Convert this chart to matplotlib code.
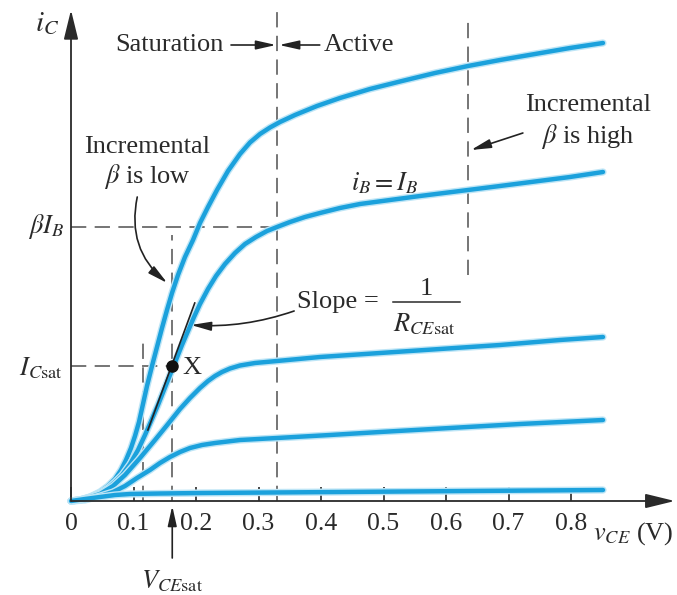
import matplotlib
matplotlib.use("Agg")
import matplotlib.pyplot as plt
import matplotlib.patheffects as pe

plt.rcParams['font.family'] = ['Liberation Serif', 'DejaVu Serif']
plt.rcParams['mathtext.fontset'] = 'stix'

# ---- data (v_CE in volts, i_C in arbitrary units) ----
c1_v = [0, 0.0144, 0.0304, 0.0464, 0.0592, 0.0704, 0.080, 0.088, 0.096, 0.1024, 0.1088,
        0.1152, 0.1216, 0.1296, 0.1376, 0.1456, 0.1536, 0.1616, 0.1712, 0.1824, 0.1952,
        0.2064, 0.2192, 0.2336, 0.2512, 0.2704, 0.2864, 0.3024, 0.3184, 0.3344, 0.3584,
        0.3936, 0.4304, 0.4784, 0.5264, 0.5824, 0.6352, 0.6864, 0.7424, 0.7984, 0.8512]
c1_i = [0, 0.01, 0.04, 0.09, 0.15, 0.22, 0.31, 0.41, 0.53, 0.65, 0.79,
        0.97, 1.15, 1.35, 1.54, 1.73, 1.91, 2.08, 2.26, 2.44, 2.61,
        2.78, 2.94, 3.11, 3.30, 3.47, 3.585, 3.67, 3.735, 3.79, 3.86,
        3.95, 4.03, 4.12, 4.195, 4.28, 4.35, 4.41, 4.47, 4.53, 4.58]

c2_v = [0, 0.0144, 0.0304, 0.0464, 0.0592, 0.0704, 0.0816, 0.0944, 0.1072, 0.1184, 0.1296,
        0.1392, 0.1488, 0.1584, 0.168, 0.1776, 0.1872, 0.1968, 0.2064, 0.2192, 0.232,
        0.2464, 0.2624, 0.2784, 0.296, 0.3136, 0.3296, 0.3504, 0.3744, 0.3984, 0.4304,
        0.4624, 0.5104, 0.5584, 0.6352, 0.6864, 0.7424, 0.7984, 0.8512]
c2_i = [0, 0.01, 0.04, 0.08, 0.13, 0.19, 0.26, 0.37, 0.51, 0.66, 0.82,
        0.96, 1.11, 1.26, 1.41, 1.56, 1.70, 1.84, 1.97, 2.12, 2.25,
        2.37, 2.48, 2.57, 2.64, 2.70, 2.74, 2.79, 2.84, 2.88, 2.93,
        2.97, 3.01, 3.05, 3.11, 3.15, 3.195, 3.24, 3.29]

c3_v = [0, 0.0224, 0.0464, 0.0672, 0.0864, 0.1104, 0.1344, 0.1552, 0.1744, 0.1904, 0.2064,
        0.2192, 0.2304, 0.2416, 0.2544, 0.2704, 0.2944, 0.3296, 0.3984, 0.4944, 0.5904,
        0.6864, 0.7824, 0.8512]
c3_i = [0, 0.02, 0.07, 0.15, 0.26, 0.43, 0.61, 0.77, 0.92, 1.03, 1.13,
        1.20, 1.25, 1.29, 1.325, 1.355, 1.38, 1.40, 1.44, 1.48, 1.52,
        1.56, 1.61, 1.64]

c4_v = [0, 0.0224, 0.0464, 0.0672, 0.0864, 0.1056, 0.1264, 0.1424, 0.1584, 0.1744, 0.1904,
        0.2096, 0.2304, 0.2704, 0.3296, 0.4144, 0.4944, 0.6064, 0.7184, 0.8512]
c4_i = [0, 0.01, 0.05, 0.09, 0.15, 0.23, 0.31, 0.38, 0.44, 0.49, 0.53,
        0.56, 0.58, 0.61, 0.63, 0.66, 0.69, 0.73, 0.77, 0.81]

c5_v = [0, 0.0224, 0.0464, 0.0704, 0.0944, 0.1424, 0.2112, 0.4304, 0.6384, 0.8512]
c5_i = [0, 0.02, 0.04, 0.06, 0.07, 0.075, 0.08, 0.09, 0.10, 0.11]

curves = [(c1_v, c1_i), (c2_v, c2_i), (c3_v, c3_i), (c4_v, c4_i), (c5_v, c5_i)]

x_ticks = [0, 0.1, 0.2, 0.3, 0.4, 0.5, 0.6, 0.7, 0.8]
x_tick_labels = ['0', '0.1', '0.2', '0.3', '0.4', '0.5', '0.6', '0.7', '0.8']

V_EDGE = 0.33        # saturation / active boundary
V_HIGH = 0.635       # incremental beta high marker
V_CESAT = 0.162
V_LOW = 0.115
BETA_IB = 2.74
I_CSAT = 1.35
tangent_v = [0.123, 0.198]
tangent_i = [0.71, 1.98]

# ---- figure ----
fig = plt.figure(figsize=(6.77, 5.95), dpi=100)
ax = fig.add_axes([0, 0, 1, 1])
ax.set_xlim(-71 / 625, (677 - 71) / 625)
ax.set_ylim((501 - 595) / 100, 501 / 100)

for s in ax.spines.values():
    s.set_visible(False)
ax.spines['bottom'].set_position(('data', 0))
ax.spines['left'].set_position(('data', 0))

axc = '#2a2a2a'
txc = '#2a2a2a'
dashc = '#505050'
dash_kw = dict(color=dashc, lw=1.1, linestyle=(0, (10, 5.5)), zorder=1)

# dashed guide lines
ax.plot([V_EDGE, V_EDGE], [0, 4.91], **dash_kw)
ax.plot([V_HIGH, V_HIGH], [2.26, 4.79], **dash_kw)
ax.plot([0, V_EDGE], [BETA_IB, BETA_IB], **dash_kw)
ax.plot([V_CESAT, V_CESAT], [0, 2.66], **dash_kw)
ax.plot([0, V_CESAT], [I_CSAT, I_CSAT], **dash_kw)
ax.plot([V_LOW, V_LOW], [0, 1.63], **dash_kw)

# curves
for v, i in curves:
    ax.plot(v, i, color='#1ba1dc', lw=3.2, solid_capstyle='round', solid_joinstyle='round',
            zorder=3, path_effects=[pe.Stroke(linewidth=5.2, foreground='#bde5f6'), pe.Normal()])

# tangent line and point X
ax.plot(tangent_v, tangent_i, color='#222222', lw=1.2, zorder=4)
ax.plot([V_CESAT], [I_CSAT], 'o', color='#111111', ms=8, zorder=5)

# axes with arrows
arr_axis = dict(arrowstyle='-|>,head_length=0.9,head_width=0.22', color=axc, lw=1.3,
                shrinkA=0, shrinkB=0, mutation_scale=20)
ax.annotate('', xy=(0.966, 0), xytext=(0, 0), arrowprops=arr_axis, zorder=6)
ax.annotate('', xy=(0, 4.91), xytext=(0, 0), arrowprops=arr_axis, zorder=6)

ax.set_yticks([])
ax.set_xticks(x_ticks)
ax.set_xticklabels(x_tick_labels)
ax.tick_params(axis='x', direction='in', length=10, width=1.2, color=axc, pad=9,
               labelsize=18.5, labelcolor=txc)

fs = 19
small_arrow = dict(arrowstyle='-|>,head_length=0.8,head_width=0.18', color='#222222', lw=1.2,
                   shrinkA=0, shrinkB=0, mutation_scale=15)

ax.text(-0.038, 4.77, r'$i_C$', fontsize=21, color=txc, ha='center', va='center')
ax.text(0.157, 4.56, 'Saturation', fontsize=fs, color=txc, ha='center', va='center')
ax.annotate('', xy=(0.328, 4.56), xytext=(0.256, 4.56), arrowprops=small_arrow)
ax.annotate('', xy=(0.333, 4.56), xytext=(0.398, 4.56), arrowprops=small_arrow)
ax.text(0.405, 4.56, 'Active', fontsize=fs, color=txc, ha='left', va='center')

ax.text(0.827, 3.96, 'Incremental', fontsize=fs, color=txc, ha='center', va='center')
ax.text(0.827, 3.64, r'$\beta$ is high', fontsize=fs, color=txc, ha='center', va='center')
ax.annotate('', xy=(0.640, 3.51), xytext=(0.723, 3.68), arrowprops=small_arrow)

ax.text(0.501, 3.18, r'$i_B = I_B$', fontsize=fs, color=txc, ha='center', va='center')

ax.text(0.122, 3.54, 'Incremental', fontsize=fs, color=txc, ha='center', va='center')
ax.text(0.122, 3.24, r'$\beta$ is low', fontsize=fs, color=txc, ha='center', va='center')
ax.annotate('', xy=(0.154, 2.18), xytext=(0.106, 3.04),
            arrowprops=dict(small_arrow, connectionstyle='arc3,rad=0.3'))

ax.text(-0.011, BETA_IB, r'$\beta I_B$', fontsize=fs, color=txc, ha='right', va='center')
ax.text(-0.013, I_CSAT - 0.02, r'$I_{C\mathrm{sat}}$', fontsize=fs, color=txc, ha='right', va='center')
ax.text(0.194, 1.33, 'X', fontsize=fs, color=txc, ha='center', va='center')

ax.text(0.362, 1.99, 'Slope =', fontsize=fs, color=txc, ha='left', va='center')
ax.text(0.568, 2.12, '1', fontsize=fs, color=txc, ha='center', va='center')
ax.plot([0.515, 0.622], [1.99, 1.99], color=txc, lw=1.1)
ax.text(0.565, 1.77, r'$R_{CE\mathrm{sat}}$', fontsize=fs, color=txc, ha='center', va='center')
ax.annotate('', xy=(0.192, 1.76), xytext=(0.357, 1.90),
            arrowprops=dict(small_arrow, connectionstyle='arc3,rad=-0.1'))

ax.annotate('', xy=(V_CESAT, -0.05), xytext=(V_CESAT, -0.57), arrowprops=small_arrow)
ax.text(V_CESAT, -0.80, r'$V_{CE\mathrm{sat}}$', fontsize=fs, color=txc, ha='center', va='center')
ax.text(0.835, -0.33, r'$v_{CE}$ (V)', fontsize=fs, color=txc, ha='left', va='center')

fig.savefig('out.png', dpi=100)
